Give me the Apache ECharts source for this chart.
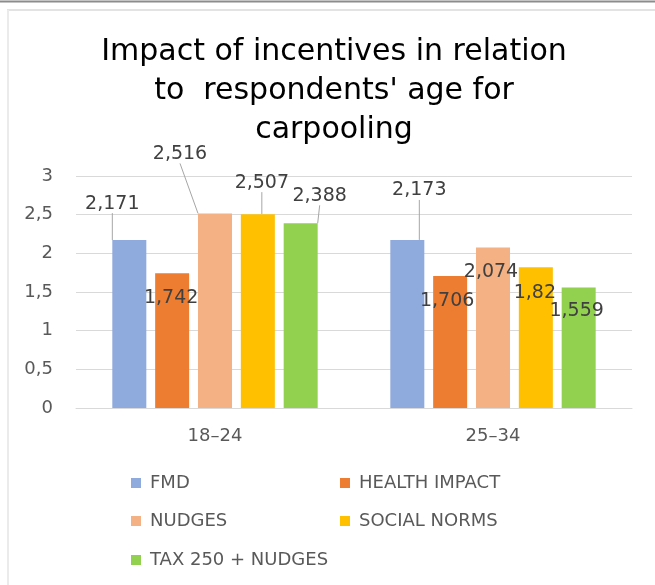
<!DOCTYPE html>
<html><head><meta charset="utf-8">
<script src="https://cdn.jsdelivr.net/npm/echarts@6/dist/echarts.min.js"></script>
<style>html,body{margin:0;padding:0;background:#fff}#c{width:655px;height:585px}</style>
</head><body><div id="c"></div>
<script>
const categories = ['18–24', '25–34'];
const seriesNames = ['FMD', 'HEALTH IMPACT', 'NUDGES', 'SOCIAL NORMS', 'TAX 250 + NUDGES'];
const fmd = [2.171, 2.173];
const healthImpact = [1.742, 1.706];
const nudges = [2.516, 2.074];
const socialNorms = [2.507, 1.82];
const tax250Nudges = [2.388, 1.559];
const yTicks = [0, 0.5, 1, 1.5, 2, 2.5, 3];

const values = [fmd, healthImpact, nudges, socialNorms, tax250Nudges];
const colors = ['#8faadc', '#ed7d31', '#f4b183', '#ffc000', '#92d050'];
// label displacement (style) relative to default top position, per series/category
const labelShift = [
  [[-17, -27], [12, -40]],
  [[-1, 34], [-3, 34]],
  [[-35, -50], [-2, 34]],
  [[4, -22], [-1, 35]],
  [[19, -18], [-2, 33]]
];
const leader = [[true, true], [false, false], [true, false], [true, false], [true, false]];
const legendPos = [[131, 474], [340, 474], [131, 512], [340, 512], [131, 551]];
const fmt = v => String(v).replace('.', ',');
const FONT = 'DejaVu Sans';

const series = seriesNames.map((name, si) => ({
  name, type: 'bar', barWidth: 34, barGap: '26%',
  itemStyle: { color: colors[si] },
  data: values[si].map((v, ci) => ({ value: v, labelLine: { show: leader[si][ci] } })),
  label: { show: true, position: 'top', distance: 0, color: '#404040', fontSize: 19, fontFamily: FONT,
    formatter: p => fmt(p.value) },
  labelLine: { show: true, lineStyle: { color: '#a6a6a6', width: 1 } },
  labelLayout: p => ({ dx: labelShift[si][p.dataIndex][0], dy: labelShift[si][p.dataIndex][1] })
}));

const legends = seriesNames.map((name, i) => ({
  data: [name], left: legendPos[i][0], top: legendPos[i][1], padding: 0,
  icon: 'rect', itemWidth: 10, itemHeight: 10, itemGap: 0,
  textStyle: { color: '#595959', fontSize: 18, fontFamily: FONT, padding: [0, 0, 0, 4] }
}));

const chart = echarts.init(document.getElementById('c'), null, { renderer: 'canvas' });
chart.setOption({
  animation: false,
  backgroundColor: '#fff',
  title: {
    text: 'Impact of incentives in relation\nto  respondents\' age for\ncarpooling',
    left: 334, textAlign: 'center', top: 33, padding: 0,
    textStyle: { color: '#000', fontSize: 30, fontWeight: 'normal', fontFamily: FONT, lineHeight: 39 }
  },
  graphic: [
    { type: 'line', shape: { x1: 0, y1: 1.5, x2: 655, y2: 1.5 }, style: { stroke: '#8c8c8c', lineWidth: 2 } },
    { type: 'line', shape: { x1: 7, y1: 10, x2: 655, y2: 10 }, style: { stroke: '#e3e3e3', lineWidth: 2 } },
    { type: 'line', shape: { x1: 8, y1: 10, x2: 8, y2: 585 }, style: { stroke: '#ebebeb', lineWidth: 2 } }
  ],
  legend: legends,
  grid: { left: 76, right: 23, top: 176, bottom: 177 },
  xAxis: {
    type: 'category', data: categories,
    axisLine: { lineStyle: { color: '#d9d9d9' } }, axisTick: { show: false },
    axisLabel: { color: '#595959', fontSize: 18, fontFamily: FONT, margin: 19 }
  },
  yAxis: {
    type: 'value', min: yTicks[0], max: yTicks[yTicks.length - 1], interval: 0.5,
    axisLine: { show: false }, axisTick: { show: false },
    splitLine: { lineStyle: { color: '#d9d9d9' } },
    axisLabel: { color: '#595959', fontSize: 18, fontFamily: FONT, margin: 23, formatter: v => fmt(v) }
  },
  series
});
</script></body></html>
